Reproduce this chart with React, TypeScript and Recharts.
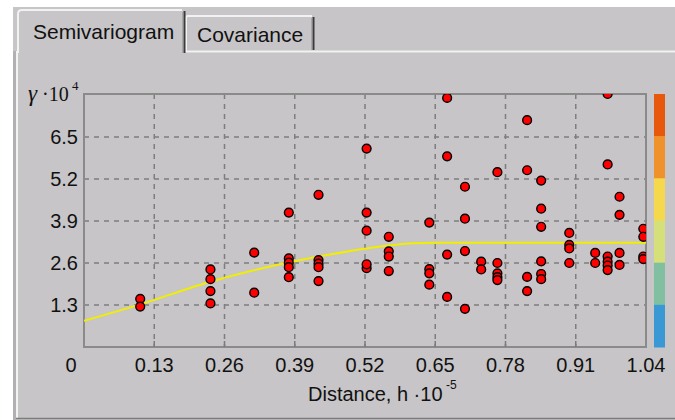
import React from "react";
import {
  ComposedChart,
  Scatter,
  Line,
  XAxis,
  YAxis,
  CartesianGrid,
  ReferenceArea,
} from "recharts";

// ---- data ----
const xTicks = [0, 0.13, 0.26, 0.39, 0.52, 0.65, 0.78, 0.91, 1.04];
const yTicks = [1.3, 2.6, 3.9, 5.2, 6.5];
const xMax = 1.04;
const yMax = 7.83;

const pointDistance = [
  0.104, 0.104,
  0.234, 0.234, 0.234, 0.234,
  0.315, 0.315,
  0.379, 0.379, 0.379, 0.379, 0.379,
  0.434, 0.434, 0.434, 0.434, 0.434,
  0.523, 0.523, 0.523, 0.523, 0.523,
  0.564, 0.564, 0.564, 0.564,
  0.639, 0.639, 0.639, 0.639,
  0.672, 0.672, 0.672, 0.672,
  0.705, 0.705, 0.705, 0.705,
  0.735, 0.735,
  0.765, 0.765, 0.765, 0.765, 0.765,
  0.82, 0.82, 0.82, 0.82,
  0.846, 0.846, 0.846, 0.846, 0.846, 0.846,
  0.898, 0.898, 0.898, 0.898,
  0.946, 0.946,
  0.969, 0.969, 0.969, 0.969, 0.969, 0.969,
  0.991, 0.991, 0.991, 0.991,
  1.035, 1.035, 1.035, 1.035,
];
const pointGamma = [
  1.49, 1.25,
  2.4, 2.1, 1.73, 1.35,
  2.92, 1.68,
  4.16, 2.74, 2.61, 2.47, 2.16,
  4.71, 2.69, 2.58, 2.47, 2.04,
  6.14, 4.16, 3.6, 2.44, 2.56,
  3.41, 2.96, 2.8, 2.35,
  3.85, 2.41, 2.28, 1.93,
  7.71, 5.9, 2.86, 1.55,
  4.96, 3.97, 2.97, 1.18,
  2.64, 2.4,
  5.41, 2.6, 2.28, 2.16, 2.07,
  7.02, 5.47, 2.17, 1.73,
  5.15, 4.28, 3.72, 2.65, 2.26, 2.1,
  3.53, 3.16, 3.05, 2.6,
  2.91, 2.6,
  7.83, 5.65, 2.8, 2.64, 2.52, 2.38,
  4.65, 4.09, 2.91, 2.54,
  3.66, 3.41, 2.8, 2.72,
];

const modelDistance = [0, 0.104, 0.234, 0.363, 0.434, 0.523, 0.564, 0.609, 0.65, 0.8, 1.04];
const modelGamma = [0.81, 1.32, 2.02, 2.56, 2.8, 3.05, 3.14, 3.21, 3.23, 3.23, 3.23];

const colorBar = ["#e8580c", "#f0922c", "#f5d84c", "#d6e07a", "#80c0a0", "#3a98d4"];

const points = pointDistance.map((x, i) => ({ x, y: pointGamma[i] }));
const model = modelDistance.map((x, i) => ({ x, y: modelGamma[i] }));

// ---- styles ----
const BG = "#c7c5c7";
const FONT = "'Liberation Sans', Arial, sans-serif";
const SERIF = "'Liberation Serif', 'Times New Roman', serif";

const XTick = (props: any) => {
  const { x, y, payload } = props;
  const v = payload.value;
  const isEnd = v === 0 || v === xMax;
  return (
    <g>
      {!isEnd && <line x1={x} y1={y} x2={x} y2={y - 6} stroke="#7a7a7a" strokeWidth={1.5} />}
      <text
        x={v === 0 ? x - 13 : x}
        y={y + 25}
        textAnchor="middle"
        fontFamily={FONT}
        fontSize={20}
        fill="#111"
      >
        {String(v)}
      </text>
    </g>
  );
};

const YTick = (props: any) => {
  const { x, y, payload } = props;
  return (
    <text x={x} y={y + 7} textAnchor="end" fontFamily={FONT} fontSize={20} fill="#111">
      {String(payload.value)}
    </text>
  );
};

const Dot = (props: any) => {
  const { cx, cy } = props;
  return <circle cx={cx} cy={cy} r={4.4} fill="#ff0000" stroke="#000" strokeWidth={1.4} />;
};

export default function App() {
  const plotTop = 94;
  const plotBottom = 347;
  const segH = (plotBottom - plotTop) / colorBar.length;
  return (
    <div style={{ position: "absolute", left: 0, top: 0, width: 675, height: 420, background: "#fff" }}>
      <svg width={675} height={420} style={{ position: "absolute", left: 0, top: 0 }}>
        {/* panel background */}
        <rect x={13} y={7} width={662} height={413} fill={BG} />
        <rect x={13} y={51} width={3} height={369} fill="#b2b0b2" />
        <line x1={17} y1={51} x2={17} y2={418} stroke="#f2f2f2" strokeWidth={2} />
        <line x1={16} y1={418.5} x2={675} y2={418.5} stroke="#7c7c7c" strokeWidth={1.5} />
        <line x1={184} y1={51.5} x2={675} y2={51.5} stroke="#f2f2f2" strokeWidth={2} />
        {/* inactive tab */}
        <path d="M186 51 L186 18 Q186 16 188 16 L312 16" fill="none" stroke="#f2f2f2" strokeWidth={2} />
        <line x1={313.5} y1={17} x2={313.5} y2={50} stroke="#3a3a3a" strokeWidth={2} />
        <line x1={312} y1={18} x2={312} y2={50} stroke="#8a8a8a" strokeWidth={1} />
        {/* active tab */}
        <rect x={18} y={10} width={166} height={43} fill={BG} />
        <path d="M18 53 L18 14 Q18 10 22 10 L182 10" fill="none" stroke="#f2f2f2" strokeWidth={2} />
        <line x1={184.5} y1={11} x2={184.5} y2={53} stroke="#3a3a3a" strokeWidth={2} />
        <line x1={183} y1={12} x2={183} y2={53} stroke="#8a8a8a" strokeWidth={1} />
        <text x={33} y={39} fontFamily={FONT} fontSize={21} fill="#111">Semivariogram</text>
        <text x={197} y={42} fontFamily={FONT} fontSize={21} fill="#111">Covariance</text>
        {/* axis titles */}
        <text x={28} y={101} fontFamily={SERIF} fontSize={20} fill="#111">
          <tspan fontSize={23} fontStyle="italic">γ</tspan>
          <tspan> ·10</tspan>
        </text>
        <text x={72} y={90} fontFamily={SERIF} fontSize={13} fill="#111">4</text>
        <text x={308} y={401} fontFamily={FONT} fontSize={20} fill="#111">Distance, h ·10</text>
        <text x={446} y={389} fontFamily={FONT} fontSize={12} fill="#111">-5</text>
        {/* color bar */}
        {colorBar.map((c, i) => (
          <rect key={c} x={654} y={plotTop + i * segH} width={11} height={segH + 0.5} fill={c} />
        ))}
      </svg>
      <div style={{ position: "absolute", left: 0, top: 0 }}>
        <ComposedChart
          width={675}
          height={420}
          margin={{ top: 94, right: 29, bottom: 33, left: 24 }}
        >
          <CartesianGrid
            stroke="#7e7e7e"
            strokeWidth={1.5}
            strokeDasharray="5 5"
          />
          <XAxis
            type="number"
            dataKey="x"
            domain={[0, xMax]}
            ticks={xTicks}
            allowDataOverflow
            axisLine={false}
            tickLine={false}
            tickSize={0}
            tickMargin={0}
            height={40}
            tick={<XTick />}
            interval={0}
          />
          <YAxis
            type="number"
            dataKey="y"
            domain={[0, yMax]}
            ticks={yTicks}
            allowDataOverflow
            axisLine={false}
            tickLine={false}
            tickSize={0}
            tickMargin={6}
            width={60}
            tick={<YTick />}
            interval={0}
          />
          <ReferenceArea
            x1={0}
            x2={xMax}
            y1={0}
            y2={yMax}
            fill="none"
            fillOpacity={0}
            stroke="#8a8a8a"
            strokeWidth={2}
            ifOverflow="visible"
          />
          <Line
            data={model}
            dataKey="y"
            type="monotone"
            stroke="#f2ee00"
            strokeWidth={2}
            dot={false}
            activeDot={false}
            isAnimationActive={false}
          />
          <Scatter data={points} dataKey="y" shape={<Dot />} isAnimationActive={false} />
        </ComposedChart>
      </div>
    </div>
  );
}
